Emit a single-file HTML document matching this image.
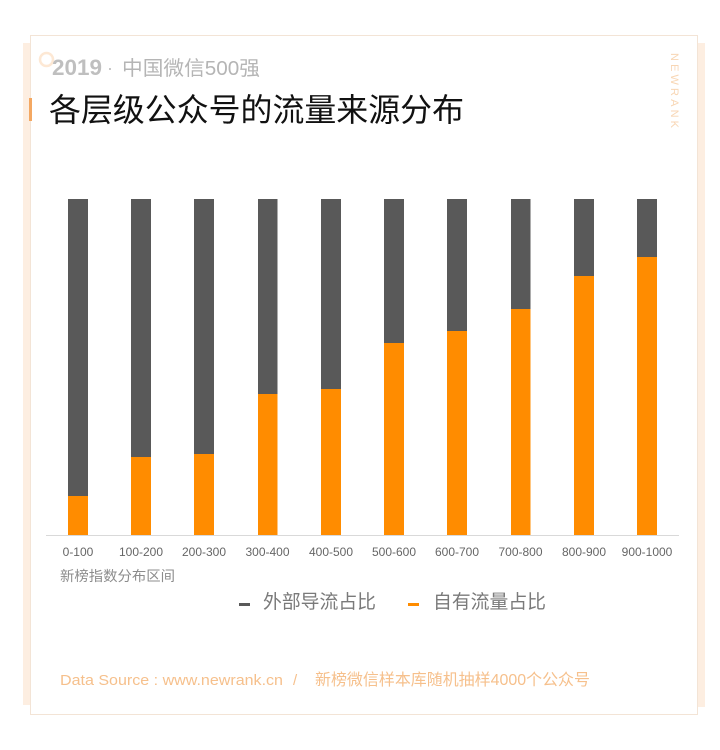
<!DOCTYPE html>
<html><head><meta charset="utf-8"><style>
html,body{margin:0;padding:0;background:#fff;width:720px;height:750px;overflow:hidden}
svg{display:block}
text{font-family:"Liberation Sans","Noto Sans CJK SC",sans-serif}
</style></head><body>
<svg width="720" height="750" viewBox="0 0 720 750" xmlns="http://www.w3.org/2000/svg">
<rect x="0" y="0" width="720" height="750" fill="#fff"/>
<!-- peach side strips -->
<rect x="23" y="43" width="8" height="662" fill="#fdeee1"/>
<rect x="697" y="43" width="8" height="664" fill="#fdeee1"/>
<!-- card -->
<rect x="30.5" y="35.5" width="667" height="679" fill="#fff" stroke="#f3e4d6" stroke-width="1"/>
<!-- accent bar -->
<rect x="29" y="98" width="3" height="23" fill="#f4a862"/>
<!-- circle deco -->
<circle cx="46.5" cy="59.5" r="6.5" fill="none" stroke="#fde8d4" stroke-width="2.5"/>
<!-- header -->
<text x="52" y="75" font-size="22" font-weight="bold" fill="#bfbfbf" textLength="50" lengthAdjust="spacingAndGlyphs">2019</text>
<text x="107" y="74" font-size="18" fill="#bfbfbf">·</text>
<text x="122" y="75" font-size="20" fill="#b5b5b5" textLength="138" lengthAdjust="spacingAndGlyphs">中国微信500强</text>
<text x="49" y="121" font-size="32" fill="#111" textLength="415" lengthAdjust="spacingAndGlyphs">各层级公众号的流量来源分布</text>
<!-- NEWRANK vertical -->
<text transform="translate(671,53) rotate(90)" x="0" y="0" font-size="11" fill="#f8d6b4" textLength="75" lengthAdjust="spacing">NEWRANK</text>
<!-- bars -->
<g>
<rect x="68" y="199" width="20" height="297" fill="#595959"/><rect x="68" y="496" width="20" height="39" fill="#ff8c00"/>
<rect x="131" y="199" width="20" height="258" fill="#595959"/><rect x="131" y="457" width="20" height="78" fill="#ff8c00"/>
<rect x="194" y="199" width="20" height="255" fill="#595959"/><rect x="194" y="454" width="20" height="81" fill="#ff8c00"/>
<rect x="258" y="199" width="19.5" height="195" fill="#595959"/><rect x="258" y="394" width="19.5" height="141" fill="#ff8c00"/>
<rect x="321" y="199" width="20" height="190" fill="#595959"/><rect x="321" y="389" width="20" height="146" fill="#ff8c00"/>
<rect x="384" y="199" width="20" height="144" fill="#595959"/><rect x="384" y="343" width="20" height="192" fill="#ff8c00"/>
<rect x="447" y="199" width="20" height="132" fill="#595959"/><rect x="447" y="331" width="20" height="204" fill="#ff8c00"/>
<rect x="511" y="199" width="19.5" height="110" fill="#595959"/><rect x="511" y="309" width="19.5" height="226" fill="#ff8c00"/>
<rect x="574" y="199" width="20" height="77" fill="#595959"/><rect x="574" y="276" width="20" height="259" fill="#ff8c00"/>
<rect x="637" y="199" width="20" height="58" fill="#595959"/><rect x="637" y="257" width="20" height="278" fill="#ff8c00"/>
</g>
<line x1="46" y1="535.5" x2="679" y2="535.5" stroke="#d9d9d9" stroke-width="1"/>
<!-- x labels -->
<g font-size="12" fill="#666" text-anchor="middle">
<text x="78" y="556">0-100</text>
<text x="141" y="556">100-200</text>
<text x="204" y="556">200-300</text>
<text x="267.5" y="556">300-400</text>
<text x="331" y="556">400-500</text>
<text x="394" y="556">500-600</text>
<text x="457" y="556">600-700</text>
<text x="520.5" y="556">700-800</text>
<text x="584" y="556">800-900</text>
<text x="647" y="556">900-1000</text>
</g>
<text x="60" y="581" font-size="14" fill="#8c8c8c" textLength="115" lengthAdjust="spacingAndGlyphs">新榜指数分布区间</text>
<!-- legend -->
<rect x="239" y="603" width="11" height="3" fill="#595959"/>
<text x="263" y="608" font-size="19" fill="#7a7a7a" textLength="113" lengthAdjust="spacingAndGlyphs">外部导流占比</text>
<rect x="408" y="603" width="11" height="3" fill="#ff8c00"/>
<text x="433" y="608" font-size="19" fill="#7a7a7a" textLength="113" lengthAdjust="spacingAndGlyphs">自有流量占比</text>
<!-- footer -->
<text x="60" y="685" font-size="15" fill="#f6c08c" textLength="223" lengthAdjust="spacingAndGlyphs">Data Source : www.newrank.cn</text>
<text x="293" y="685" font-size="15" fill="#f6c08c">/</text>
<text x="315" y="685" font-size="16" fill="#f6c08c" textLength="275" lengthAdjust="spacingAndGlyphs">新榜微信样本库随机抽样4000个公众号</text>
</svg>
</body></html>
